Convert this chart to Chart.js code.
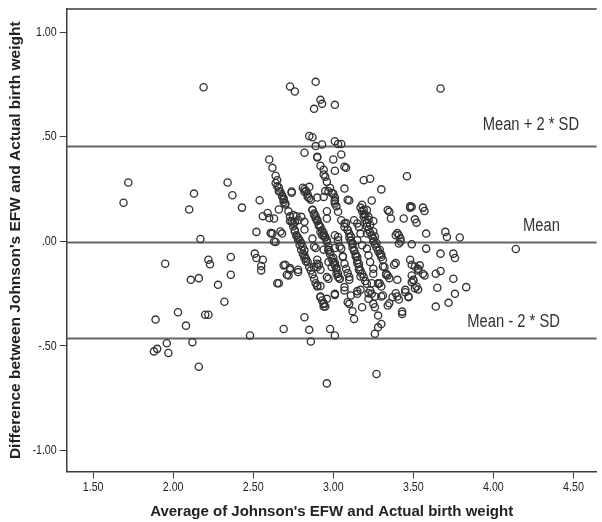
<!DOCTYPE html>
<html>
<head>
<meta charset="utf-8">
<script src="https://cdn.jsdelivr.net/npm/chart.js@4.4.1/dist/chart.umd.min.js"></script>
<style>
  body { margin: 0; background: #fff; }
  canvas { display: block; }
</style>
</head>
<body>
<canvas id="baChart" width="602" height="522"></canvas>
<script>
// Bland-Altman: average (x) vs difference (y)
const avgWeight = [
  1.69, 1.72, 1.88, 1.90, 1.89, 1.95, 1.96, 1.97, 2.03, 2.08, 2.10, 2.11, 2.12, 2.13, 2.16, 2.16, 2.17, 2.19, 2.20, 2.22,
  2.22, 2.23, 2.28, 2.32, 2.34, 2.36, 2.36, 2.37, 2.43, 2.48, 2.51, 2.52, 2.52, 2.54, 2.55, 2.55, 2.56, 2.56, 2.62, 2.61,
  2.63, 2.64, 2.66, 2.66, 2.68, 2.69, 2.69, 2.72, 2.73, 2.74, 2.75, 2.76, 2.77, 2.78, 2.80, 2.78, 2.82, 2.82, 2.82, 2.85,
  2.86, 2.60, 2.62, 2.64, 2.65, 2.66, 2.67, 2.68, 2.69, 2.69, 2.70, 2.73, 2.76, 2.73, 2.75, 2.76, 2.77, 2.78, 2.79, 2.80,
  2.81, 2.82, 2.82, 2.83, 2.84, 2.85, 2.86, 2.87, 2.88, 2.90, 2.92, 2.82, 2.83, 2.84, 2.85, 2.85, 2.87, 2.88, 2.89, 2.89,
  2.90, 2.91, 2.92, 2.93, 2.94, 2.94, 2.95, 2.96, 2.90, 2.94, 2.95, 2.96, 2.96, 2.87, 2.89, 2.93, 2.97, 2.98, 2.99, 3.00,
  3.01, 3.02, 3.02, 3.03, 3.04, 2.97, 2.99, 2.92, 2.93, 2.94, 2.95, 2.96, 2.98, 2.96, 3.01, 3.01, 2.96, 2.97, 2.90, 2.90,
  2.88, 3.00, 3.01, 3.01, 3.01, 3.03, 3.05, 3.07, 3.00, 3.01, 3.01, 3.03, 3.05, 3.05, 3.07, 3.08, 3.07, 3.10, 3.07, 3.09,
  3.10, 3.10, 3.11, 3.12, 3.12, 3.13, 3.14, 3.15, 3.15, 3.16, 3.16, 3.17, 3.18, 3.19, 3.20, 3.21, 3.06, 3.07, 3.08, 3.09,
  3.10, 3.07, 3.07, 3.09, 3.10, 3.11, 3.12, 3.13, 3.15, 3.15, 3.17, 3.18, 3.03, 3.03, 3.05, 3.01, 3.17, 3.18, 3.19, 3.19,
  3.20, 3.21, 3.21, 3.22, 3.23, 3.24, 3.25, 3.25, 3.26, 3.27, 3.28, 3.29, 3.30, 3.19, 3.23, 3.24, 3.21, 3.22, 3.25, 3.13,
  3.15, 3.16, 3.17, 3.21, 3.15, 3.18, 3.21, 3.22, 3.23, 3.25, 3.25, 3.23, 3.24, 3.22, 3.25, 3.26, 3.28, 3.26, 3.28, 3.30,
  3.27, 3.28, 3.30, 3.30, 3.32, 3.33, 3.34, 3.35, 3.36, 3.34, 3.35, 3.38, 3.39, 3.41, 3.41, 3.42, 3.40, 3.40, 3.41, 3.43,
  3.44, 3.45, 3.46, 3.47, 3.48, 3.49, 3.48, 3.49, 3.51, 3.52, 3.51, 3.53, 3.53, 3.54, 3.49, 3.50, 3.49, 3.51, 3.53, 3.31,
  3.34, 3.37, 3.56, 3.57, 3.58, 3.58, 3.57, 3.56, 3.64, 3.65, 3.64, 3.67, 3.67, 3.70, 3.71, 3.72, 3.75, 3.76, 3.75, 3.76,
  3.79, 3.83, 4.14, 3.67, 2.89, 2.90, 2.90, 2.92, 2.94, 2.95, 2.96, 2.93, 2.85, 2.87, 2.82, 2.88, 2.92, 2.93, 3.01, 2.89,
  2.64, 2.65, 2.66, 2.68, 2.69, 2.70, 2.72, 2.73, 2.74, 2.75, 2.76, 2.77, 2.78, 2.79, 2.80, 2.81, 2.82, 2.83,
  2.81, 2.82, 2.84, 2.87, 2.88, 2.90, 2.91, 2.92, 2.95, 2.96, 2.97, 2.98, 3.00, 3.01, 3.02, 3.03, 3.04,
  2.94, 2.98, 2.99, 3.01, 3.02,
  3.18, 3.19, 3.20, 3.22, 3.23, 3.25, 3.26, 3.27, 3.29, 3.30, 3.31,
  3.08, 3.09, 3.11, 3.12, 3.13, 3.14, 3.15, 3.16, 3.17,
  3.48, 3.40, 3.42, 3.49, 3.50, 3.52, 3.43, 3.39, 3.31, 3.33, 3.29, 3.10, 3.24, 3.28, 3.22, 3.26, 3.30, 3.35, 3.39, 3.45, 3.47,
  2.59, 2.60, 2.61, 2.67, 2.63, 2.70, 2.73, 2.71, 2.65, 2.78, 2.74, 2.88, 2.90, 2.91, 2.92, 2.89, 2.90, 2.94, 2.97, 3.01, 3.04,
  3.06, 2.92, 2.94, 2.94, 3.01, 2.86, 2.97, 3.09
];
const diffWeight = [
  0.184, 0.281, -0.526, -0.514, -0.374, -0.107, -0.487, -0.534, -0.339, -0.403, 0.152, -0.184, -0.482, 0.228, -0.176, -0.599, 0.011, 0.736, -0.351, -0.088,
  -0.351, -0.110, -0.208, -0.289, 0.281, -0.160, -0.075, 0.220, 0.161, -0.450, -0.059, -0.080, 0.045, 0.196, -0.118, -0.139, -0.088, 0.120, 0.037, 0.040,
  0.109, -0.003, 0.152, -0.200, 0.037, -0.419, -0.115, -0.163, -0.136, 0.232, 0.125, 0.093, 0.120, 0.101, 0.117, -0.147, 0.056, 0.093, -0.363, -0.423,
  -0.479, 0.391, 0.351, 0.313, 0.292, 0.257, 0.236, 0.220, 0.204, 0.188, 0.176, 0.740, 0.716, 0.097, 0.085, 0.053, 0.029, 0.018, 0.005, -0.008,
  -0.027, -0.043, -0.067, -0.083, -0.099, -0.123, -0.139, -0.158, -0.179, -0.211, -0.214, 0.249, 0.240, 0.225, 0.206, 0.260, 0.149, 0.133, 0.120, 0.109,
  0.096, 0.081, 0.069, 0.053, 0.040, 0.027, 0.018, 0.005, 0.209, 0.212, 0.240, 0.144, 0.109, 0.013, -0.032, 0.029, -0.043, -0.062, -0.083, -0.099,
  -0.115, -0.136, -0.155, -0.171, -0.179, -0.099, -0.123, -0.267, -0.283, -0.299, -0.312, -0.275, -0.419, -0.679, -0.450, -0.251, -0.171, -0.179, -0.107, -0.123,
  -0.123, 0.228, 0.209, 0.196, 0.181, 0.141, 0.101, 0.085, 0.391, 0.337, 0.478, 0.465, 0.465, 0.415, 0.356, 0.351, 0.252, 0.195, 0.069, 0.053,
  0.037, 0.018, 0.002, -0.014, -0.030, -0.046, -0.062, -0.075, -0.091, -0.107, -0.123, -0.139, -0.155, -0.171, -0.190, -0.203, -0.075, -0.107, -0.131, -0.152,
  -0.171, -0.219, -0.235, -0.291, -0.299, -0.259, -0.334, -0.371, -0.251, -0.238, -0.232, -0.315, 0.021, 0.005, -0.035, 0.029, 0.161, 0.145, 0.129, 0.117,
  0.101, 0.088, 0.072, 0.056, 0.042, 0.027, 0.013, 0.000, -0.014, -0.030, -0.046, -0.059, -0.075, 0.292, 0.299, 0.195, 0.149, 0.117, 0.097, 0.101,
  0.085, 0.069, 0.037, 0.037, 0.005, -0.019, -0.035, -0.067, -0.099, -0.131, -0.155, -0.235, -0.251, -0.275, -0.299, -0.315, -0.355, -0.442, -0.411, -0.395,
  -0.634, -0.203, -0.216, 0.248, -0.123, -0.155, 0.149, 0.141, 0.109, -0.163, -0.176, -0.112, 0.029, 0.029, -0.011, 0.013, -0.184, -0.264, -0.278, -0.347,
  0.109, -0.243, 0.311, -0.267, -0.088, 0.165, 0.161, -0.014, 0.105, 0.089, -0.120, -0.139, -0.131, -0.115, -0.195, -0.187, -0.163, -0.224, -0.230, -0.259,
  -0.307, -0.267, 0.161, 0.145, 0.037, -0.035, -0.163, -0.155, -0.155, -0.222, -0.312, -0.059, -0.142, 0.045, 0.021, -0.294, -0.059, -0.080, -0.179, -0.251,
  0.018, -0.219, -0.037, 0.730, 0.455, 0.404, 0.401, 0.361, 0.319, 0.308, 0.284, 0.463, 0.503, 0.497, 0.423, 0.633, 0.676, 0.657, 0.652, 0.762,
  0.279, 0.263, 0.239, 0.215, 0.199, 0.182, 0.143, 0.119, 0.095, 0.071, 0.047, 0.027, 0.008, -0.017, -0.040, -0.059, -0.080, -0.096,
  0.256, 0.237, 0.213, 0.151, 0.127, 0.103, 0.074, 0.045, 0.022, -0.002, -0.026, -0.050, -0.079, -0.103, -0.127, -0.155, -0.179,
  0.342, 0.255, 0.231, 0.191, 0.167,
  0.175, 0.151, 0.127, 0.103, 0.079, 0.047, 0.023, -0.008, -0.040, -0.064, -0.088,
  0.087, 0.055, 0.023, -0.008, -0.040, -0.072, -0.104, -0.136, -0.168,
  0.167, 0.039, -0.001, -0.112, -0.184, -0.216, -0.336, -0.104, -0.120, -0.160, -0.200, -0.184, -0.200, -0.200, -0.248, -0.264, -0.264, -0.296, -0.248, -0.232, -0.264,
  0.135, 0.111, 0.039, 0.047, -0.001, -0.112, -0.128, -0.160, -0.200, -0.136, 0.238, -0.025, -0.088, -0.112, -0.136, -0.200, -0.216, -0.040, -0.040, -0.032, -0.025,
  -0.072, -0.264, -0.296, -0.312, -0.256, 0.199, 0.239, 0.199
];

// reference lines
const lineNames = ["Mean + 2 * SD", "Mean", "Mean - 2 * SD"];
const lineValues = [0.453, -0.003, -0.462];
const labelX = [4.234, 4.30, 4.126];
const labelY = [0.556, 0.072, -0.387];

const xTicks = [1.5, 2.0, 2.5, 3.0, 3.5, 4.0, 4.5];
const yTicks = [-1.0, -0.5, 0.0, 0.5, 1.0];

const axisColor = "#3c3c3c";
const fmtY = (v) => v.toFixed(2).replace(/^(-?)0\./, "$1.");

// condensed text (narrow face is not installed, so squeeze it)
function narrowText(ctx, text, x, y, size, align) {
  ctx.save();
  ctx.font = size + "px 'Liberation Sans', Arial, sans-serif";
  ctx.textAlign = align;
  ctx.textBaseline = "middle";
  ctx.translate(x, y);
  ctx.scale(0.82, 1);
  ctx.fillText(text, 0, 0);
  ctx.restore();
}

const refLines = {
  id: "refLines",
  beforeDatasetsDraw(chart) {
    const { ctx, chartArea, scales } = chart;
    ctx.save();
    // top frame line
    ctx.strokeStyle = axisColor;
    ctx.lineWidth = 1.5;
    ctx.beginPath();
    ctx.moveTo(chartArea.left, chartArea.top);
    ctx.lineTo(chartArea.right, chartArea.top);
    ctx.stroke();

    ctx.strokeStyle = "#666";
    ctx.lineWidth = 2;
    lineValues.forEach((v) => {
      const y = Math.round(scales.y.getPixelForValue(v)) + 0.5;
      ctx.beginPath();
      ctx.moveTo(chartArea.left, y);
      ctx.lineTo(chartArea.right, y);
      ctx.stroke();
    });

    ctx.fillStyle = "#333";
    lineNames.forEach((name, i) => {
      narrowText(ctx, name, scales.x.getPixelForValue(labelX[i]), scales.y.getPixelForValue(labelY[i]), 18, "center");
    });

    // tick labels
    ctx.fillStyle = "#222";
    xTicks.forEach((v) => {
      narrowText(ctx, v.toFixed(2), scales.x.getPixelForValue(v), chartArea.bottom + 16, 13, "center");
    });
    yTicks.forEach((v) => {
      narrowText(ctx, fmtY(v), chartArea.left - 10, scales.y.getPixelForValue(v), 13, "right");
    });
    ctx.restore();
  },
};

const ctx = document.getElementById("baChart").getContext("2d");
new Chart(ctx, {
  type: "scatter",
  data: {
    datasets: [
      {
        data: avgWeight.map((x, i) => ({ x: x, y: diffWeight[i] })),
        pointRadius: 3.6,
        pointBorderWidth: 1.35,
        borderColor: "#333",
        backgroundColor: "rgba(0,0,0,0)",
      },
    ],
  },
  options: {
    responsive: false,
    animation: false,
    layout: { padding: { top: 9, right: 0, left: 0, bottom: 0 } },
    plugins: { legend: { display: false }, tooltip: { enabled: false } },
    scales: {
      x: {
        type: "linear",
        min: 1.335,
        max: 4.645,
        afterBuildTicks: (s) => { s.ticks = xTicks.map((v) => ({ value: v })); },
        afterFit: (s) => { s.height = 50.5; },
        grid: { drawOnChartArea: false, tickLength: 7, color: axisColor },
        border: { color: axisColor, width: 1.5 },
        ticks: { display: false },
        title: {
          display: true,
          text: "Average of Johnson's EFW and Actual birth weight",
          color: "#222",
          font: { family: "'Liberation Sans', Arial, sans-serif", size: 15, weight: "bold" },
          padding: { top: 0, bottom: 1 },
        },
      },
      y: {
        type: "linear",
        min: -1.1,
        max: 1.11,
        afterBuildTicks: (s) => { s.ticks = yTicks.map((v) => ({ value: v })); },
        afterFit: (s) => { s.width = 66.7; },
        grid: { drawOnChartArea: false, tickLength: 7, color: axisColor },
        border: { color: axisColor, width: 1.5 },
        ticks: { display: false },
        title: {
          display: true,
          text: "Difference between Johnson's EFW and Actual birth weight",
          color: "#222",
          font: { family: "'Liberation Sans', Arial, sans-serif", size: 15.5, weight: "bold" },
          padding: { top: 6, bottom: 0 },
        },
      },
    },
  },
  plugins: [refLines],
});
</script>
</body>
</html>
